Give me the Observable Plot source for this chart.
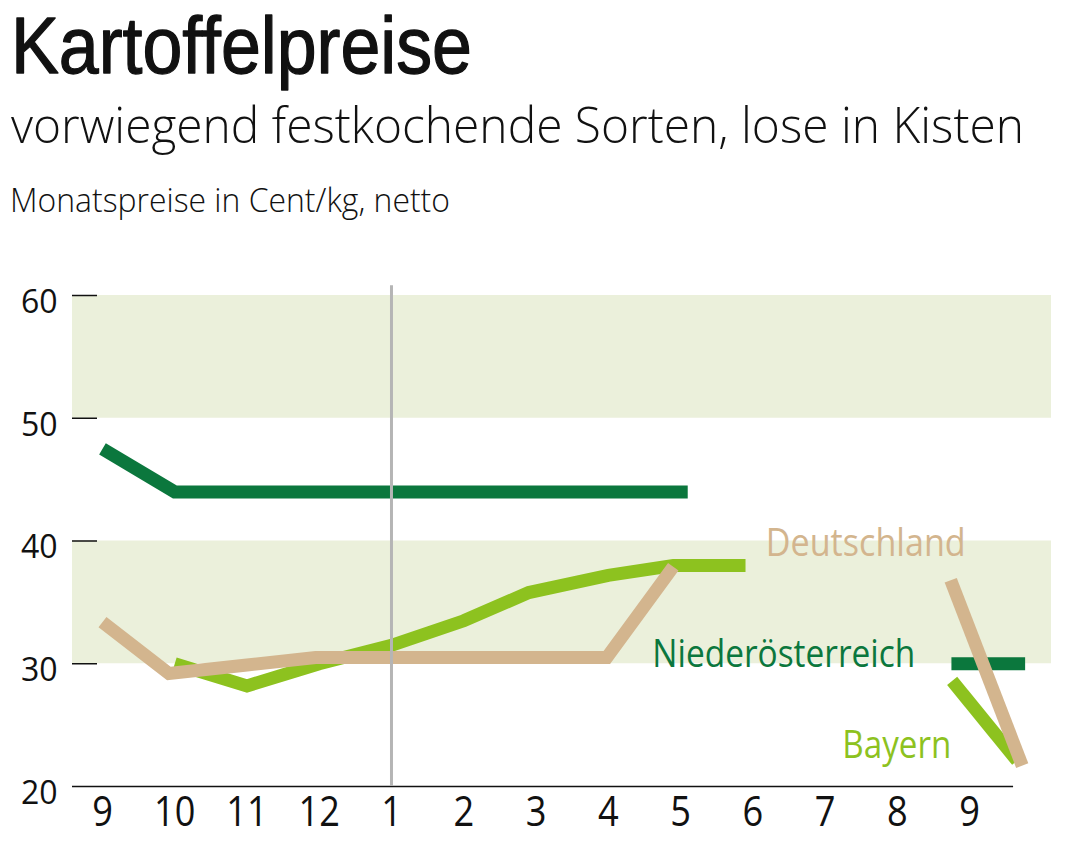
<!DOCTYPE html>
<html>
<head>
<meta charset="utf-8">
<script src="https://cdn.jsdelivr.net/npm/d3@7"></script>
<script src="https://cdn.jsdelivr.net/npm/@observablehq/plot@0.6"></script>
<style>
  html, body { margin: 0; padding: 0; background: #ffffff; }
  #root { position: relative; width: 1073px; height: 861px; overflow: hidden; }
  #root svg { display: block; }
</style>
</head>
<body>
<div id="root"></div>
<script>
// ---------- texts ----------
const titleText = "Kartoffelpreise";
const subtitleText = "vorwiegend festkochende Sorten, lose in Kisten";
const unitText = "Monatspreise in Cent/kg, netto";

// ---------- categories / ticks ----------
const monthLabels = ["9", "10", "11", "12", "1", "2", "3", "4", "5", "6", "7", "8", "9"];
const monthIndex = [0, 1, 2, 3, 4, 5, 6, 7, 8, 9, 10, 11, 12];
const yTicks = [20, 30, 40, 50, 60];
const bandRanges = [[30, 40], [50, 60]];
const yearStart = 4; // month "1"

// ---------- series (x = month index, y = Cent/kg) ----------
const niederX = [0, 1, 2, 3, 4, 5, 6, 7, 8.1];
const niederY = [47.5, 44, 44, 44, 44, 44, 44, 44, 44];
const niederLateX = [11.75, 12.77];
const niederLateY = [30, 30];

const bayernX = [1, 2, 3, 4, 5, 5.9, 7, 7.9, 8.9];
const bayernY = [30, 28.2, 30, 31.5, 33.5, 35.8, 37.2, 38, 38];
const bayernLateX = [11.76, 12.66];
const bayernLateY = [28.6, 22.1];

const deutschX = [0, 0.92, 2, 2.95, 4, 5, 6, 6.98, 7.9];
const deutschY = [33.4, 29.2, 29.9, 30.5, 30.5, 30.5, 30.5, 30.5, 37.9];
const deutschLateX = [11.74, 12.73];
const deutschLateY = [36.8, 21.7];

const seriesNames = ["Niederösterreich", "Bayern", "Deutschland"];
const seriesColors = ["#0b773d", "#8dc21f", "#d3b58e"];
const labelX = [7.61, 10.24, 9.18];
const labelY = [29.7, 22.3, 38.8];

// ---------- layout / style constants ----------
const W = 1073, HEAD_H = 250, PLOT_H = 611;
const X_DOMAIN = [-0.415, 13.135];
const AXIS_END = 12.61;
const TICK_LEN = 0.346;
const BAND = "#ebf0db";
const GRID_GRAY = "#b5b5b5";
const FONT = "'Open Sans', 'Noto Sans', 'DejaVu Sans', sans-serif";
const TITLE_FONT = "'Liberation Sans', Arial, 'DejaVu Sans', sans-serif";
const labelWidths = {"Niederösterreich": 263, "Bayern": 109, "Deutschland": 200};

const pts = (xs, ys) => xs.map((x, i) => ({x, y: ys[i]}));
const lineOpts = (color) => ({x: "x", y: "y", stroke: color, strokeWidth: 13,
  strokeLinecap: "butt", strokeLinejoin: "miter", strokeMiterlimit: 10});

// ---------- header ----------
const root = d3.select("#root");
const head = root.append("svg").attr("width", W).attr("height", HEAD_H);
head.append("text").attr("x", 11).attr("y", 73).attr("font-family", TITLE_FONT)
  .attr("font-size", 80).attr("font-weight", 400).attr("fill", "#111")
  .attr("stroke", "#111").attr("stroke-width", 1.3).attr("stroke-linejoin", "round")
  .attr("textLength", 461).attr("lengthAdjust", "spacingAndGlyphs").text(titleText);
head.append("text").attr("x", 11).attr("y", 143).attr("font-family", FONT)
  .attr("font-size", 49.5).attr("font-weight", 300).attr("fill", "#111")
  .attr("textLength", 1013).attr("lengthAdjust", "spacingAndGlyphs").text(subtitleText);
head.append("text").attr("x", 10).attr("y", 212).attr("font-family", FONT)
  .attr("font-size", 32.5).attr("font-weight", 300).attr("fill", "#111")
  .attr("textLength", 440).attr("lengthAdjust", "spacingAndGlyphs").text(unitText);

// ---------- chart ----------
const chart = Plot.plot({
  width: W,
  height: PLOT_H,
  marginLeft: 72,
  marginRight: 22,
  marginTop: 45,
  marginBottom: 75,
  style: {fontFamily: FONT, background: "transparent", color: "#111", overflow: "visible"},
  color: {type: "identity"},
  x: {domain: X_DOMAIN, axis: null},
  y: {domain: [20, 60], axis: null},
  marks: [
    Plot.rect(bandRanges, {x1: () => X_DOMAIN[0], x2: () => X_DOMAIN[1], y1: d => d[0], y2: d => d[1], fill: BAND}),
    Plot.ruleY(yTicks.filter(v => v > 20), {x1: () => X_DOMAIN[0], x2: () => X_DOMAIN[0] + TICK_LEN, stroke: "#111", strokeWidth: 1.5}),
    Plot.ruleY([yTicks[0]], {x1: () => X_DOMAIN[0], x2: () => AXIS_END, stroke: "#111", strokeWidth: 1.5}),
    Plot.axisY({ticks: yTicks, tickSize: 0, tickPadding: 15, fontSize: 32, dy: 7, label: null}),
    Plot.axisX({ticks: monthIndex, tickFormat: i => monthLabels[i], tickSize: 0, tickPadding: 10, fontSize: 42, label: null}),
    Plot.line(pts(niederX, niederY), lineOpts(seriesColors[0])),
    Plot.line(pts(niederLateX, niederLateY), lineOpts(seriesColors[0])),
    Plot.line(pts(bayernX, bayernY), lineOpts(seriesColors[1])),
    Plot.line(pts(bayernLateX, bayernLateY), lineOpts(seriesColors[1])),
    Plot.line(pts(deutschX, deutschY), lineOpts(seriesColors[2])),
    Plot.line(pts(deutschLateX, deutschLateY), lineOpts(seriesColors[2])),
    Plot.ruleX([yearStart], {y1: 60.8, y2: 20, stroke: GRID_GRAY, strokeWidth: 3}),
    Plot.text(seriesNames, {
      x: (d, i) => labelX[i], y: (d, i) => labelY[i], text: d => d,
      fill: (d, i) => seriesColors[i], fontSize: 38.5, textAnchor: "start", lineAnchor: "bottom"
    })
  ]
});
root.node().appendChild(chart);

// condense texts to the narrower type of the original
d3.select(chart).selectAll("text").each(function() {
  const t = this.textContent;
  if (labelWidths[t] !== undefined) {
    this.setAttribute("textLength", labelWidths[t]);
    this.setAttribute("lengthAdjust", "spacingAndGlyphs");
  } else if (monthLabels.includes(t)) {
    const w = this.getComputedTextLength();
    this.setAttribute("textLength", (w * 0.86).toFixed(1));
    this.setAttribute("lengthAdjust", "spacingAndGlyphs");
  }
});
</script>
</body>
</html>
